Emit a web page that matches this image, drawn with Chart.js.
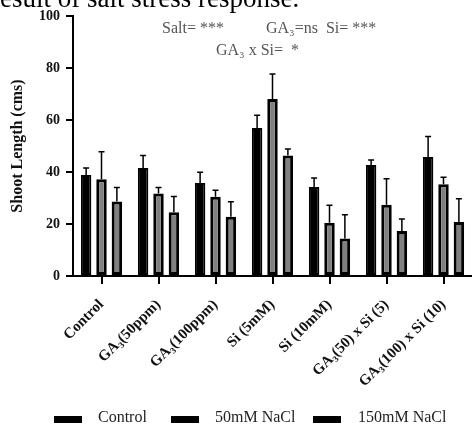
<!DOCTYPE html>
<html>
<head>
<meta charset="utf-8">
<script src="https://cdn.jsdelivr.net/npm/chart.js@4.4.1/dist/chart.umd.min.js"></script>
<style>
  body { margin: 0; background: #fff; }
  #wrap { position: relative; width: 472px; height: 427px; overflow: hidden; }
  #legend { position: absolute; left: 0; top: 408px; width: 472px; height: 19px;
    font: 16px 'Liberation Serif', 'Times New Roman', serif; color: #222; }
  #legend span.box { position: absolute; top: 8px; width: 28px; height: 7px; background: #000; }
  #legend span.txt { position: absolute; top: 0; white-space: nowrap; }
</style>
</head>
<body>
<div id="wrap">
  <canvas id="shootChart"></canvas>
  <div id="legend"></div>
</div>
<script>
// data
const categories = ['Control', 'GA\u2083(50ppm)', 'GA\u2083(100ppm)', 'Si (5mM)', 'Si (10mM)', 'GA\u2083(50) x Si (5)', 'GA\u2083(100) x Si (10)'];
const seriesNames = ['Control', '50mM NaCl', '150mM NaCl'];
const controlMeans = [38.8, 41.5, 35.8, 56.9, 34.2, 42.7, 45.8];
const controlErr = [2.7, 4.8, 4.1, 4.9, 3.5, 1.9, 7.9];
const nacl50Means = [37.2, 31.7, 30.5, 68.1, 20.5, 27.4, 35.3];
const nacl50Err = [10.6, 2.3, 2.5, 9.6, 6.7, 10.0, 2.7];
const nacl150Means = [28.7, 24.5, 22.8, 46.3, 14.4, 17.3, 20.8];
const nacl150Err = [5.3, 6.1, 5.8, 2.5, 9.2, 4.6, 8.9];
const yTicks = [0, 20, 40, 60, 80, 100];

const serif = "'Liberation Serif', 'Times New Roman', serif";
const errors = [controlErr, nacl50Err, nacl150Err];

// Error bars (upper half only, the lower half sits behind the bar)
const errorBarPlugin = {
  id: 'errorBars',
  afterDatasetsDraw(chart) {
    const ctx = chart.ctx;
    const y = chart.scales.y;
    ctx.save();
    ctx.strokeStyle = '#000';
    ctx.lineWidth = 1.5;
    chart.data.datasets.forEach((ds, i) => {
      const meta = chart.getDatasetMeta(i);
      meta.data.forEach((bar, j) => {
        const top = y.getPixelForValue(ds.data[j] + errors[i][j]);
        const base = y.getPixelForValue(ds.data[j]);
        ctx.beginPath();
        ctx.moveTo(bar.x, base);
        ctx.lineTo(bar.x, top);
        ctx.moveTo(bar.x - 3, top);
        ctx.lineTo(bar.x + 3, top);
        ctx.stroke();
      });
    });
    ctx.restore();
  }
};

// Stats text + the clipped caption line above the figure
const notesPlugin = {
  id: 'notes',
  afterDraw(chart) {
    const ctx = chart.ctx;
    ctx.save();
    ctx.textBaseline = 'alphabetic';
    ctx.fillStyle = '#000';
    ctx.font = '27px ' + serif;
    ctx.fillText('result of salt stress response.', -9, 6.5);
    ctx.fillStyle = '#555';
    ctx.font = '16px ' + serif;
    ctx.fillText('Salt= ***', 162, 33);
    ctx.fillText('GA\u2083=ns  Si= ***', 266, 33);
    ctx.fillText('GA\u2083 x Si=  *', 216, 55);
    ctx.restore();
  }
};

new Chart(document.getElementById('shootChart'), {
  type: 'bar',
  data: {
    labels: categories,
    datasets: [
      { label: seriesNames[0], data: controlMeans, backgroundColor: '#000', borderColor: '#000', borderWidth: 2 },
      { label: seriesNames[1], data: nacl50Means, backgroundColor: '#808080', borderColor: '#000', borderWidth: 3 },
      { label: seriesNames[2], data: nacl150Means, backgroundColor: '#808080', borderColor: '#000', borderWidth: 3 }
    ].map(d => Object.assign(d, { borderSkipped: false, barPercentage: 0.68, categoryPercentage: 0.81 }))
  },
  options: {
    responsive: true,
    maintainAspectRatio: false,
    animation: false,
    layout: { padding: { top: 16, right: 0, left: 0, bottom: 0 } },
    plugins: {
      legend: { display: false },
      tooltip: { enabled: false }
    },
    scales: {
      x: {
        grid: { drawOnChartArea: false, offset: false, color: '#000', lineWidth: 2, tickLength: 8 },
        border: { color: '#000', width: 2 },
        ticks: {
          color: '#111',
          font: { family: serif, size: 15, weight: 'bold' },
          maxRotation: 45,
          minRotation: 45,
          autoSkip: false,
          padding: 12
        },
        afterFit(scale) { scale.height = 151; }
      },
      y: {
        min: 0,
        max: 100,
        afterBuildTicks(scale) { scale.ticks = yTicks.map(v => ({ value: v })); },
        grid: { drawOnChartArea: false, color: '#000', lineWidth: 2, tickLength: 7 },
        border: { color: '#000', width: 2 },
        ticks: { color: '#111', font: { family: serif, size: 14, weight: 'bold' }, padding: 6 },
        title: {
          display: true,
          text: 'Shoot Length (cms)',
          color: '#111',
          font: { family: serif, size: 16, weight: 'bold' },
          padding: { top: 8, bottom: 0 }
        },
        afterFit(scale) { scale.width = 73; }
      }
    }
  },
  plugins: [errorBarPlugin, notesPlugin]
});

// legend drawn as html under the canvas
const legendPos = [[54, 98], [171, 215], [313, 358]];
const legendEl = document.getElementById('legend');
seriesNames.forEach((name, i) => {
  const box = document.createElement('span');
  box.className = 'box';
  box.style.left = legendPos[i][0] + 'px';
  const txt = document.createElement('span');
  txt.className = 'txt';
  txt.style.left = legendPos[i][1] + 'px';
  txt.textContent = name;
  legendEl.appendChild(box);
  legendEl.appendChild(txt);
});
</script>
</body>
</html>
